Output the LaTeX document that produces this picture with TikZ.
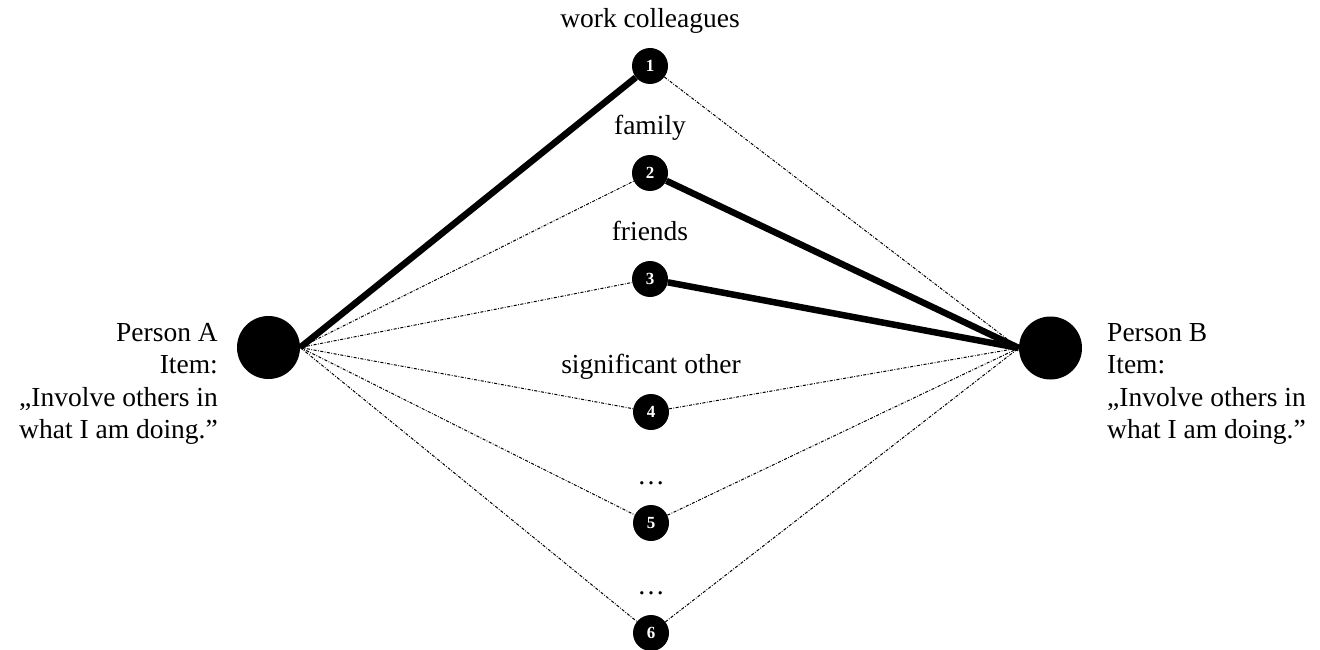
\documentclass[tikz,border=0pt]{standalone}
\usepackage{fontspec}
\setmainfont{Liberation Serif}
\usetikzlibrary{positioning}

\begin{document}
\begin{tikzpicture}[x=1pt,y=-1pt,
    person/.style={circle,fill=black,minimum size=63pt,inner sep=0pt},
    rel/.style={circle,fill=black,minimum size=36pt,inner sep=0pt,text=white,font=\fontsize{17}{17}\selectfont\bfseries},
    lbl/.style={inner sep=0pt,font=\fontsize{27.5}{32}\selectfont},
    info/.style={inner sep=0pt,font=\fontsize{27.5}{32.5}\selectfont},
    strong/.style={line width=6.5pt},
    weak/.style={line width=1pt,dash pattern=on 3pt off 1.5pt on 0.8pt off 1.5pt}]
  \useasboundingbox (0,0) rectangle (1320,650);

  % persons
  \node [person] (pA) at (268.5,347.5) {};
  \node [info,align=right,anchor=east] (tA) at (218,384) {Person A\\Item:\\„Involve others in\\what I am doing.”};
  \node [person] (pB) at (1050.5,348) {};
  \node [info,align=left,anchor=west] (tB) at (1107,384) {Person B\\Item:\\„Involve others in\\what I am doing.”};

  % relationship contexts
  \node [rel] (n1) at (650,66) {1};
  \node [lbl,above=20pt of n1,anchor=base] (l1) {work colleagues};
  \node [rel] (n2) at (650,173) {2};
  \node [lbl,above=20pt of n2,anchor=base] (l2) {family};
  \node [rel] (n3) at (650,279) {3};
  \node [lbl,above=20pt of n3,anchor=base] (l3) {friends};
  \node [rel] (n4) at (651,412) {4};
  \node [lbl,above=20pt of n4,anchor=base] (l4) {significant other};
  \node [rel] (n5) at (651,523) {5};
  \node [lbl,above=20pt of n5,anchor=base] (l5) {…};
  \node [rel] (n6) at (651,633) {6};
  \node [lbl,above=20pt of n6,anchor=base] (l6) {…};

  % strong ties
  \draw [strong] (pA.east) -- (n1);
  \draw [strong] (n2) -- (pB.west);
  \draw [strong] (n3) -- (pB.west);

  % weak ties
  \draw [weak] (n1) -- (pB.west);
  \draw [weak] (pA.east) -- (n2);
  \draw [weak] (pA.east) -- (n3);
  \draw [weak] (pA.east) -- (n4);
  \draw [weak] (n4) -- (pB.west);
  \draw [weak] (pA.east) -- (n5);
  \draw [weak] (n5) -- (pB.west);
  \draw [weak] (pA.east) -- (n6);
  \draw [weak] (n6) -- (pB.west);
\end{tikzpicture}
\end{document}
